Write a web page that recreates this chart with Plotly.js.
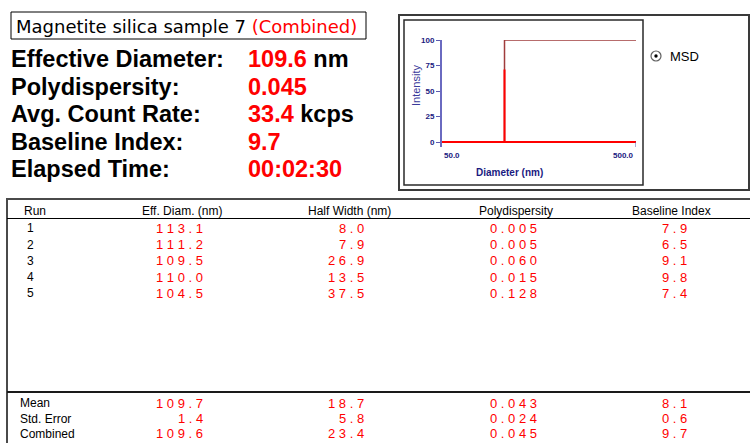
<!DOCTYPE html>
<html><head><meta charset="utf-8">
<script src="https://cdn.plot.ly/plotly-3.0.1.min.js"></script>
<style>html,body{margin:0;padding:0;background:#fff;} #chart{width:750px;height:443px;}</style>
</head><body><div id="chart"></div>
<script>
// ---------- data ----------
const sampleName = 'Magnetite silica sample 7';
const sampleTag = '(Combined)';
const summaryLabels = ['Effective Diameter:', 'Polydispersity:', 'Avg. Count Rate:', 'Baseline Index:', 'Elapsed Time:'];
const summaryValues = ['109.6', '0.045', '33.4', '9.7', '00:02:30'];
const summaryUnits = ['nm', '', 'kcps', '', ''];

const distDiameter = [50, 105, 105, 105, 500];
const distIntensity = [0, 0, 71, 0, 0];
const cumDiameter = [105, 105, 500];
const cumIntensity = [0, 100, 100];
const yTicks = [0, 25, 50, 75, 100];
const xTickLabels = ['50.0', '500.0'];
const xTickVals = [50, 500];

const columnHeaders = ['Run', 'Eff. Diam. (nm)', 'Half Width (nm)', 'Polydispersity', 'Baseline Index'];
const runs = ['1', '2', '3', '4', '5'];
const effDiam = ['113.1', '111.2', '109.5', '110.0', '104.5'];
const halfWidth = ['8.0', '7.9', '26.9', '13.5', '37.5'];
const polydispersity = ['0.005', '0.005', '0.060', '0.015', '0.128'];
const baselineIndex = ['7.9', '6.5', '9.1', '9.8', '7.4'];
const statLabels = ['Mean', 'Std. Error', 'Combined'];
const statEffDiam = ['109.7', '1.4', '109.6'];
const statHalfWidth = ['18.7', '5.8', '23.4'];
const statPoly = ['0.043', '0.024', '0.045'];
const statBaseline = ['8.1', '0.6', '9.7'];

// ---------- layout helpers ----------
const W = 750, H = 443;
const px = x => x / W;
const py = y => 1 - y / H;
const RED = '#ff0000';
const NAVY = '#1a1a80';
const spaced = s => s.split('').join(' ');
const annotations = [];
function ann(text, x, y, opt) {
  opt = opt || {};
  annotations.push(Object.assign({
    text: text, x: px(x), y: py(y), xref: 'paper', yref: 'paper',
    xanchor: opt.xanchor || 'left', yanchor: 'middle', showarrow: false,
    font: Object.assign({family: 'Arial, Liberation Sans', size: 12, color: '#000'}, opt.font || {})
  }, opt.extra || {}));
}

// header box
ann(sampleName + ' <span style="color:' + RED + '">' + sampleTag + '</span>', 14, 26, {font: {size: 18, family: 'DejaVu Sans'}});
// summary
const sumY = [59, 87, 114, 142, 169];
summaryLabels.forEach((l, i) => {
  ann('<b>' + l + '</b>', 9, sumY[i], {font: {size: 23.5}});
  let v = '<b><span style="color:' + RED + '">' + summaryValues[i] + '</span>' + (summaryUnits[i] ? ' ' + summaryUnits[i] : '') + '</b>';
  ann(v, 246, sumY[i], {font: {size: 23.5}});
});

// radio MSD
ann('MSD', 668, 56, {font: {size: 13, family: 'Arial'}});

// small chart labels
ann('<b>' + xTickLabels[0] + '</b>', 0, 155, {font: {size: 8, color: NAVY}, extra: {xref: 'x', x: Math.log10(xTickVals[0]), xanchor: 'left'}});
ann('<b>' + xTickLabels[1] + '</b>', 0, 155, {font: {size: 8, color: NAVY}, extra: {xref: 'x', x: Math.log10(xTickVals[1]), xanchor: 'right'}});
ann('<b>Diameter (nm)</b>', 509, 172, {xanchor: 'center', font: {size: 10, color: NAVY}});
ann('Intensity', 416, 86, {xanchor: 'center', font: {size: 11, color: '#3a3a9a'}, extra: {textangle: -90}});

// table headers
const colHeaderX = [22, 182, 349, 516, 671];
columnHeaders.forEach((h, i) => {
  ann(h, colHeaderX[i], 211, {xanchor: i === 0 ? 'left' : 'center', font: {size: 12}});
});
const colRight = [0, 205, 366, 539, 689];
const rowY = [228, 244.5, 260.5, 277, 293];
const valCols = [effDiam, halfWidth, polydispersity, baselineIndex];
runs.forEach((r, i) => {
  ann(r, 30, rowY[i], {xanchor: 'center', font: {size: 12}});
  valCols.forEach((col, c) => {
    ann(spaced(col[i]), colRight[c + 1], rowY[i], {xanchor: 'right', font: {size: 13, color: RED}});
  });
});
const statY = [403, 418.5, 433.5];
const statCols = [statEffDiam, statHalfWidth, statPoly, statBaseline];
statLabels.forEach((l, i) => {
  ann(l, 18, statY[i], {font: {size: 12}});
  statCols.forEach((col, c) => {
    ann(spaced(col[i]), colRight[c + 1], statY[i], {xanchor: 'right', font: {size: 13, color: RED}});
  });
});

// shapes
const shapes = [];
function rect(x0, y0, x1, y1, color, w) {
  shapes.push({type: 'rect', xref: 'paper', yref: 'paper', x0: px(x0), x1: px(x1), y0: py(y0), y1: py(y1), line: {color: color, width: w}, layer: 'below'});
}
function line(x0, y0, x1, y1, color, w) {
  shapes.push({type: 'line', xref: 'paper', yref: 'paper', x0: px(x0), x1: px(x1), y0: py(y0), y1: py(y1), line: {color: color, width: w}});
}
rect(11, 12, 366, 39, '#000', 1);
rect(399, 15, 749, 190, '#3a3a3a', 2);
rect(404, 20, 643, 185, '#2a2a2a', 1.5);
line(7, 199, 752, 199, '#4a4a4a', 2);
line(7, 198, 7, 445, '#4a4a4a', 2);
line(7, 218.5, 752, 218.5, '#000', 1);
line(7, 392, 752, 392, '#1a1a1a', 2);
// x-axis end tick at 500 (axis coordinates)
shapes.push({type: 'line', xref: 'x', yref: 'y', x0: xTickVals[1], x1: xTickVals[1], y0: 0, y1: -5, line: {color: '#5a5ab0', width: 1}});
// radio button
shapes.push({type: 'circle', xref: 'paper', yref: 'paper', x0: px(651), x1: px(661), y0: py(51), y1: py(61), line: {color: '#606060', width: 1.2}, fillcolor: '#fff'});
shapes.push({type: 'circle', xref: 'paper', yref: 'paper', x0: px(654.3), x1: px(657.7), y0: py(54.3), y1: py(57.7), line: {color: '#000', width: 0}, fillcolor: '#000'});

const traces = [
  {x: cumDiameter, y: cumIntensity, type: 'scatter', mode: 'lines', line: {color: '#a03c3c', width: 1.5}, hoverinfo: 'skip', showlegend: false, cliponaxis: false},
  {x: distDiameter, y: distIntensity, type: 'scatter', mode: 'lines', line: {color: RED, width: 2}, hoverinfo: 'skip', showlegend: false, cliponaxis: false}
];

// y range extends 5 units below zero so the axis line reaches under the baseline
const yMin = -5;
const yPxPerUnit = (142 - 40) / 100;
const layout = {
  width: W, height: H, margin: {l: 0, r: 0, t: 0, b: 0},
  paper_bgcolor: '#fff', plot_bgcolor: 'rgba(0,0,0,0)',
  showlegend: false,
  xaxis: {domain: [px(442), px(636)], type: 'log', range: [Math.log10(50), Math.log10(500)],
          showgrid: false, zeroline: false, showline: false, ticks: '',
          showticklabels: false, fixedrange: true},
  yaxis: {domain: [py(142 - yMin * yPxPerUnit), py(40)], range: [yMin, 100], tickvals: yTicks, ticks: 'outside', ticklen: 4,
          tickcolor: '#5a5ab0', showline: true, linecolor: '#6a6ac0', linewidth: 2, showgrid: false, zeroline: false,
          tickfont: {family: 'Arial', size: 8, color: NAVY, weight: 'bold'}, fixedrange: true},
  annotations: annotations,
  shapes: shapes
};
Plotly.newPlot('chart', traces, layout, {displayModeBar: false, staticPlot: true});
</script>
</body></html>
